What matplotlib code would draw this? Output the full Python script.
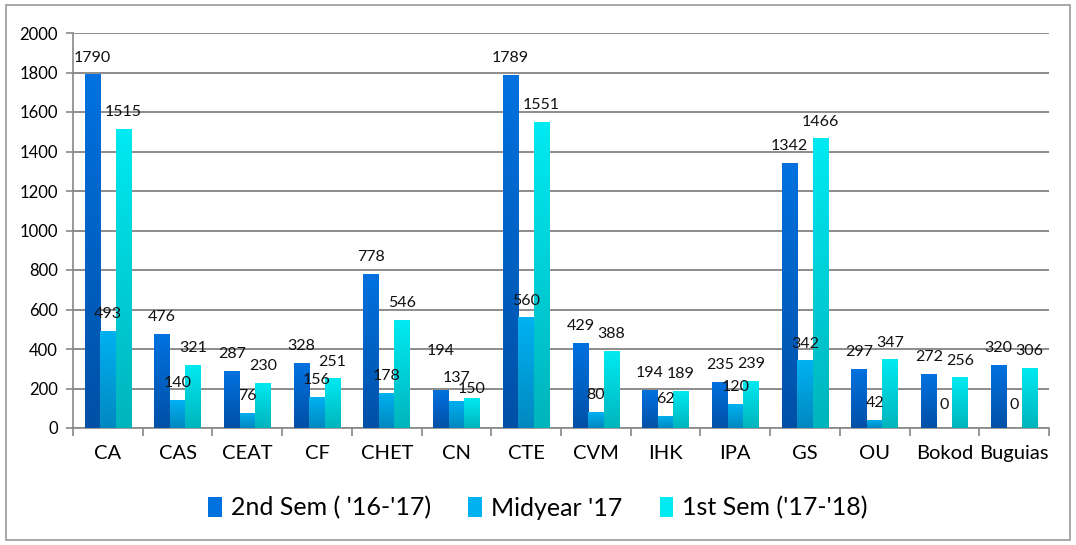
import matplotlib
matplotlib.use("Agg")
import matplotlib.pyplot as plt
import matplotlib.colors as mcolors
import numpy as np
from matplotlib.patches import Rectangle, Patch

categories = ["CA", "CAS", "CEAT", "CF", "CHET", "CN", "CTE", "CVM", "IHK", "IPA", "GS", "OU", "Bokod", "Buguias"]
sem2_16_17 = [1790, 476, 287, 328, 778, 194, 1789, 429, 194, 235, 1342, 297, 272, 320]
midyear_17 = [493, 140, 76, 156, 178, 137, 560, 80, 62, 120, 342, 42, 0, 0]
sem1_17_18 = [1515, 321, 230, 251, 546, 150, 1551, 388, 189, 239, 1466, 347, 256, 306]
series_names = ["2nd Sem ( '16-'17)", "Midyear '17", "1st Sem ('17-'18)"]
yticks = [0, 200, 400, 600, 800, 1000, 1200, 1400, 1600, 1800, 2000]

grads = [("#0072E0", "#0050A6"), ("#00B2F2", "#0088C0"), ("#00EAF2", "#00B4BC")]
# extra label lift (data units) to avoid overlaps, as in the reference
label_lift = {(0, 5): 110, (1, 5): 30, (2, 5): -40}

plt.rcParams['font.family'] = ['Lato', 'DejaVu Sans']
fig = plt.figure(figsize=(10.76, 5.45), dpi=100)
ax = fig.add_axes([73/1076, 1 - 428/545, (1049-73)/1076, (428-33)/545])

x = np.arange(len(categories))
w = 0.222
series = [sem2_16_17, midyear_17, sem1_17_18]
grad = np.linspace(0, 1, 256).reshape(-1, 1)
for i, (vals, name, (ctop, cbot)) in enumerate(zip(series, series_names, grads)):
    bars = ax.bar(x + (i - 1) * w, vals, w, color=ctop, label=name, zorder=3)
    cmap = mcolors.LinearSegmentedColormap.from_list("g%d" % i, [cbot, ctop])
    for j, (b, v) in enumerate(zip(bars, vals)):
        cx = b.get_x() + b.get_width() / 2
        if v > 0:
            im = ax.imshow(grad, cmap=cmap, aspect='auto', origin='lower',
                           extent=[b.get_x(), b.get_x() + b.get_width(), 0, b.get_height()],
                           zorder=4)
            im.set_clip_path(b)
            y = v + 50 + label_lift.get((i, j), 0)
        else:
            y = 80
        ax.text(cx, y, str(v), ha='center', va='bottom',
                fontsize=11.5, color='#111111', zorder=6)

ax.set_xlim(-0.5, len(categories) - 0.5)
ax.set_ylim(0, 2000)
ax.set_yticks(yticks)
ax.set_yticklabels([str(t) for t in yticks], fontsize=12)
ax.set_xticks(x)
ax.set_xticklabels(categories, fontsize=14.5)
ax.set_xticks(np.arange(-0.5, len(categories), 1), minor=True)
ax.tick_params(axis='x', which='major', length=0, pad=12)
ax.tick_params(axis='x', which='minor', length=6, color='#888888', width=1.2)
ax.tick_params(axis='y', length=5, color='#888888', width=1.2, pad=6)
ax.grid(axis='y', color='#8c8c8c', linewidth=1.4, zorder=0)
for s in ['top', 'right']:
    ax.spines[s].set_visible(False)
for s in ['left', 'bottom']:
    ax.spines[s].set_color('#888888')
    ax.spines[s].set_linewidth(1.2)

handles = [Patch(facecolor=c[0], edgecolor='none') for c in grads]
fig.legend(handles, series_names, loc='center', bbox_to_anchor=(0.5, 1 - 508/545), ncol=3,
           frameon=False, fontsize=18, handlelength=0.55, handleheight=0.8, columnspacing=1.5,
           handletextpad=0.35)

fig.patches.append(Rectangle((6/1076, 5/545), 1 - 12/1076, 1 - 10/545, transform=fig.transFigure,
                             fill=False, edgecolor='#999999', linewidth=1.2))
fig.savefig("out.png", dpi=100)
